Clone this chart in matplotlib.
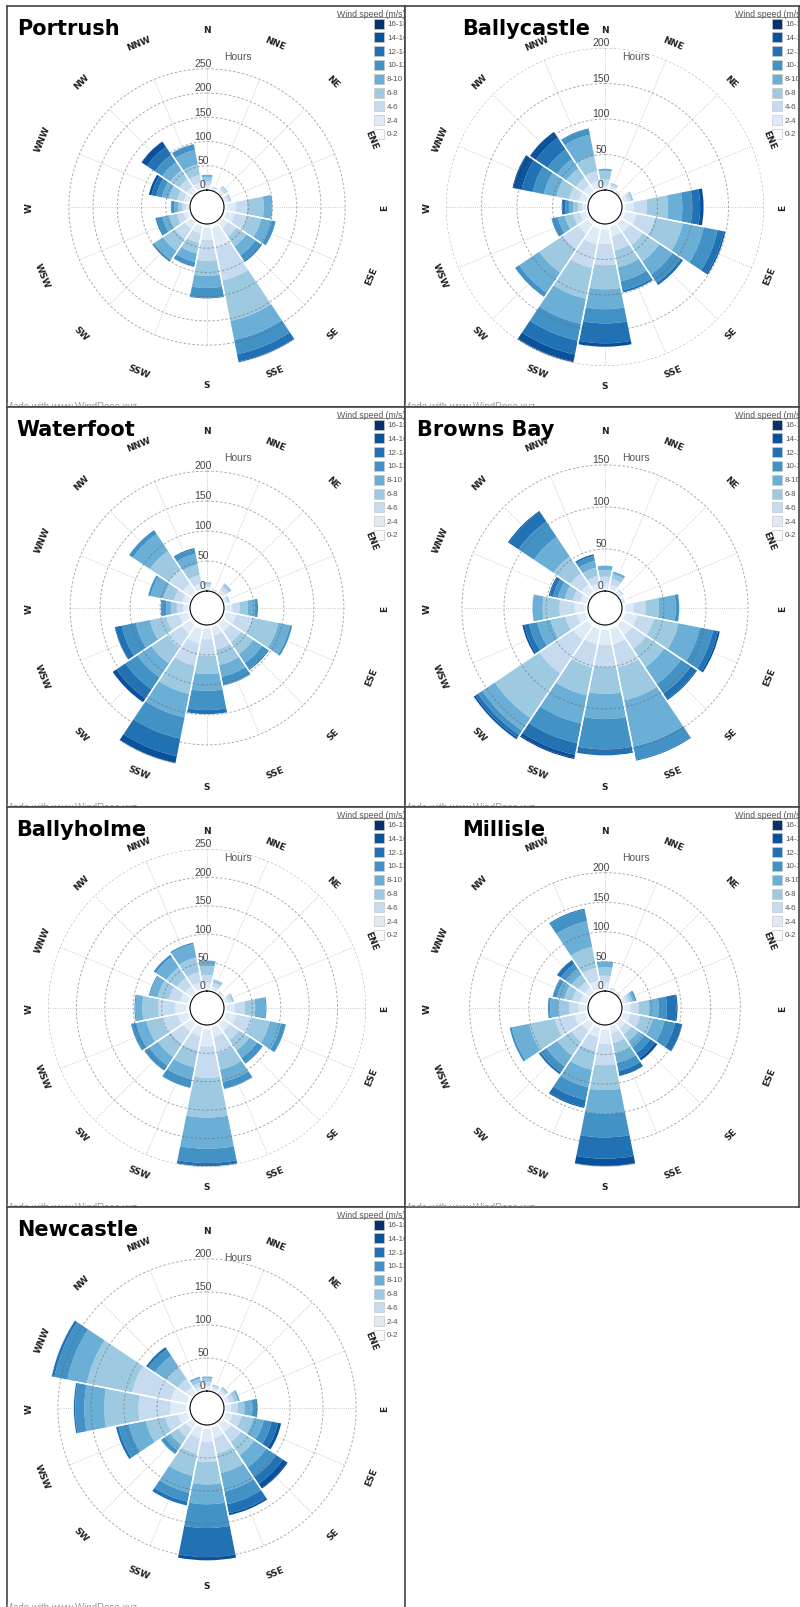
import matplotlib
matplotlib.use("Agg")
import matplotlib.pyplot as plt
import numpy as np
from matplotlib.patches import Rectangle

W, H = 800, 1608

directions = ["N", "NNE", "NE", "ENE", "E", "ESE", "SE", "SSE",
              "S", "SSW", "SW", "WSW", "W", "WNW", "NW", "NNW"]
speed_bins = ["0-2", "2-4", "4-6", "6-8", "8-10", "10-12", "12-14", "14-16", "16-18"]
blues = ["#f7fbff", "#deebf7", "#c6dbef", "#9ecae1", "#6baed6",
         "#4292c6", "#2171b5", "#08519c", "#08306b"]

# hours per direction (rows N..NNW), columns = speed bins 0-2 .. 16-18
portrush = [
    [3, 6, 8, 10, 6, 0, 0, 0, 0],
    [2, 4, 3, 1, 0, 0, 0, 0, 0],
    [3, 7, 6, 3, 1, 0, 0, 0, 0],
    [3, 6, 5, 3, 1, 0, 0, 0, 0],
    [6, 18, 24, 34, 16, 3, 0, 0, 0],
    [6, 18, 25, 30, 22, 9, 1, 0, 0],
    [5, 14, 20, 25, 22, 14, 4, 0, 0],
    [10, 40, 70, 85, 40, 30, 15, 3, 0],
    [8, 25, 43, 31, 25, 20, 3, 0, 0],
    [6, 15, 20, 22, 18, 10, 2, 0, 0],
    [6, 15, 24, 30, 22, 6, 0, 0, 0],
    [5, 10, 14, 16, 14, 12, 4, 0, 0],
    [3, 6, 7, 8, 8, 7, 2, 0, 0],
    [4, 10, 14, 18, 14, 12, 10, 6, 1],
    [5, 12, 18, 22, 20, 18, 20, 13, 2],
    [5, 12, 16, 22, 30, 12, 2, 0, 0],
]
ballycastle = [
    [2, 5, 8, 12, 4, 0, 0, 0, 0],
    [2, 4, 3, 2, 1, 0, 0, 0, 0],
    [1, 2, 1, 1, 0, 0, 0, 0, 0],
    [3, 6, 5, 3, 1, 0, 0, 0, 0],
    [5, 12, 18, 30, 20, 14, 11, 5, 1],
    [6, 16, 26, 40, 30, 20, 9, 3, 0],
    [5, 14, 22, 28, 22, 14, 5, 0, 0],
    [5, 14, 20, 24, 20, 13, 4, 0, 0],
    [8, 20, 30, 34, 28, 20, 28, 5, 1],
    [8, 22, 34, 44, 36, 24, 20, 10, 2],
    [6, 16, 26, 40, 34, 8, 0, 0, 0],
    [4, 8, 10, 12, 10, 8, 2, 0, 0],
    [3, 5, 6, 7, 6, 5, 4, 2, 0],
    [4, 10, 14, 18, 18, 16, 16, 12, 2],
    [4, 10, 12, 16, 16, 16, 20, 10, 1],
    [4, 10, 14, 22, 30, 8, 2, 0, 0],
]
waterfoot = [
    [2, 4, 5, 4, 1, 0, 0, 0, 0],
    [1, 2, 2, 1, 0, 0, 0, 0, 0],
    [3, 6, 7, 5, 2, 0, 0, 0, 0],
    [2, 4, 3, 2, 1, 0, 0, 0, 0],
    [4, 10, 12, 14, 12, 6, 0, 0, 0],
    [5, 16, 28, 44, 20, 5, 0, 0, 0],
    [5, 14, 22, 24, 18, 12, 3, 0, 0],
    [5, 14, 24, 26, 20, 14, 2, 0, 0],
    [6, 18, 28, 30, 28, 32, 8, 0, 0],
    [8, 24, 38, 48, 40, 36, 30, 11, 2],
    [6, 18, 28, 32, 28, 24, 18, 8, 1],
    [5, 14, 22, 28, 24, 24, 11, 2, 0],
    [4, 8, 10, 10, 8, 8, 2, 0, 0],
    [4, 10, 14, 18, 22, 5, 0, 0, 0],
    [5, 16, 28, 38, 34, 9, 0, 0, 0],
    [4, 10, 14, 18, 18, 8, 3, 0, 0],
]
browns_bay = [
    [3, 6, 8, 8, 6, 0, 0, 0, 0],
    [3, 5, 7, 6, 4, 0, 0, 0, 0],
    [2, 3, 2, 1, 0, 0, 0, 0, 0],
    [1, 2, 1, 1, 0, 0, 0, 0, 0],
    [4, 10, 14, 16, 20, 5, 0, 0, 0],
    [5, 14, 20, 30, 26, 16, 6, 3, 0],
    [5, 14, 20, 26, 24, 14, 8, 2, 0],
    [6, 18, 28, 40, 56, 16, 2, 0, 0],
    [6, 18, 26, 32, 30, 36, 8, 0, 0],
    [6, 18, 28, 34, 34, 24, 14, 4, 2],
    [6, 20, 48, 64, 18, 6, 4, 3, 0],
    [4, 10, 14, 18, 16, 10, 6, 3, 0],
    [4, 12, 18, 20, 12, 1, 0, 0, 0],
    [3, 7, 9, 10, 8, 6, 4, 2, 0],
    [4, 10, 16, 24, 28, 22, 14, 2, 0],
    [3, 7, 9, 10, 8, 6, 3, 0, 0],
]
ballyholme = [
    [4, 10, 14, 16, 11, 0, 0, 0, 0],
    [3, 6, 7, 5, 2, 0, 0, 0, 0],
    [2, 3, 2, 1, 0, 0, 0, 0, 0],
    [3, 6, 6, 4, 1, 0, 0, 0, 0],
    [5, 14, 18, 18, 18, 3, 0, 0, 0],
    [5, 18, 28, 32, 20, 8, 2, 0, 0],
    [5, 14, 20, 22, 16, 10, 3, 0, 0],
    [5, 18, 28, 30, 22, 12, 2, 0, 0],
    [8, 30, 55, 70, 55, 25, 6, 1, 0],
    [5, 16, 26, 30, 22, 14, 2, 0, 0],
    [5, 16, 26, 28, 18, 10, 2, 0, 0],
    [5, 18, 28, 28, 18, 9, 2, 0, 0],
    [6, 20, 30, 28, 12, 3, 0, 0, 0],
    [5, 14, 20, 20, 14, 3, 0, 0, 0],
    [5, 12, 18, 22, 22, 6, 0, 0, 0],
    [5, 12, 18, 26, 24, 4, 0, 0, 0],
]
millisle = [
    [4, 10, 12, 14, 10, 1, 0, 0, 0],
    [2, 3, 2, 1, 0, 0, 0, 0, 0],
    [1, 2, 2, 1, 0, 0, 0, 0, 0],
    [3, 5, 6, 5, 4, 3, 1, 0, 0],
    [4, 10, 14, 18, 16, 14, 16, 3, 0],
    [4, 12, 16, 22, 20, 18, 12, 2, 0],
    [4, 10, 12, 14, 12, 12, 10, 5, 1],
    [4, 12, 16, 18, 16, 14, 9, 1, 0],
    [8, 24, 36, 42, 40, 40, 36, 12, 2],
    [6, 16, 24, 32, 30, 22, 12, 3, 0],
    [5, 14, 22, 28, 22, 12, 5, 0, 0],
    [6, 18, 34, 44, 30, 5, 0, 0, 0],
    [4, 12, 16, 18, 14, 5, 0, 0, 0],
    [4, 10, 14, 14, 12, 7, 2, 0, 0],
    [4, 10, 12, 14, 12, 10, 7, 2, 0],
    [5, 14, 22, 36, 44, 20, 3, 0, 0],
]
newcastle = [
    [3, 5, 6, 6, 3, 0, 0, 0, 0],
    [2, 4, 3, 2, 1, 0, 0, 0, 0],
    [2, 5, 4, 3, 1, 0, 0, 0, 0],
    [3, 6, 7, 6, 4, 0, 0, 0, 0],
    [3, 8, 10, 10, 12, 8, 1, 0, 0],
    [4, 10, 14, 18, 16, 12, 10, 5, 1],
    [5, 14, 18, 24, 22, 18, 12, 8, 2],
    [5, 16, 24, 30, 28, 20, 14, 4, 0],
    [6, 20, 30, 34, 30, 36, 44, 6, 0],
    [5, 16, 24, 34, 26, 14, 6, 1, 0],
    [4, 10, 14, 14, 10, 6, 2, 0, 0],
    [5, 14, 20, 30, 26, 16, 5, 0, 0],
    [6, 24, 48, 52, 30, 14, 3, 0, 0],
    [6, 24, 60, 70, 30, 20, 5, 0, 0],
    [4, 10, 14, 22, 20, 12, 5, 0, 0],
    [3, 5, 6, 6, 4, 0, 0, 0, 0],
]

station_names = ["Portrush", "Ballycastle", "Waterfoot", "Browns Bay",
                 "Ballyholme", "Millisle", "Newcastle"]
station_tables = [portrush, ballycastle, waterfoot, browns_bay,
                  ballyholme, millisle, newcastle]
title_x = [10, 57, 9, 12, 9, 57, 10]

panel_x = [7, 405]
panel_w = [398, 394]
panel_y = [7, 408, 808, 1208, 1610]

fig = plt.figure(figsize=(W / 100, H / 100), dpi=100)


def fig_rect(x, y, w, h):
    return [x / W, 1 - (y + h) / H, w / W, h / H]


theta = np.deg2rad(np.arange(16) * 22.5)
width = np.deg2rad(22.5)
ring = np.linspace(0, 2 * np.pi, 361)
R = 159  # plot radius in px
HOLE = 17

for i, (name, table) in enumerate(zip(station_names, station_tables)):
    row, col = divmod(i, 2)
    x0, y0 = panel_x[col], panel_y[row]
    pw, ph = panel_w[col], panel_y[row + 1] - y0

    # panel frame with title, legend and footer
    frame = fig.add_axes(fig_rect(x0, y0, pw, ph))
    frame.set_xlim(0, pw)
    frame.set_ylim(ph, 0)
    frame.set_xticks([])
    frame.set_yticks([])
    for s in frame.spines.values():
        s.set_color("#444444")
        s.set_linewidth(1.2)
    frame.text(title_x[i], 28, name, fontsize=15, fontweight="bold",
               va="baseline", clip_on=True)
    frame.text(330, 7, "Wind speed (m/s)", fontsize=6.3, color="#555555",
               family="Liberation Sans", va="center", clip_on=True)
    frame.plot([330, pw], [11, 11], color="#777777", lw=0.6, clip_on=True)
    for j in range(9):
        k = 8 - j
        yy = 17.5 + j * 13.8
        frame.add_patch(Rectangle((367, yy - 5), 10, 10, facecolor=blues[k],
                                  edgecolor="#c8c8c8", lw=0.5))
        frame.text(380, yy, speed_bins[k], fontsize=5.8, color="#555555",
                   family="Liberation Sans", va="center", clip_on=True)
    frame.text(-2, 395, "Made with www.WindRose.xyz", fontsize=7,
               color="#999999", family="Liberation Sans", va="top", clip_on=True)

    # wind rose
    data = np.array(table, dtype=float)
    totals = data.sum(axis=1)
    rmax = totals.max()
    hole = rmax * HOLE / (R - HOLE)
    cx, cy = x0 + 200, y0 + 201
    ax = fig.add_axes(fig_rect(cx - R, cy - R, 2 * R, 2 * R), projection="polar")
    ax.patch.set_alpha(0)
    ax.set_theta_zero_location("N")
    ax.set_theta_direction(-1)
    ax.set_ylim(0, rmax)
    ax.set_rorigin(-hole)
    ax.set_xticks([])
    ax.set_yticks([])
    ax.grid(False)
    for s in ax.spines.values():
        s.set_visible(False)

    ticks = np.arange(0, rmax + 0.5, 50)
    for t in theta:
        ax.plot([t, t], [0, ticks[-1]], ls=":", color="#bbbbbb", lw=0.6, zorder=0.5)

    cum = np.zeros(16)
    for k in range(9):
        ax.bar(theta, data[:, k], width=width, bottom=cum, color=blues[k],
               linewidth=0, zorder=2)
        cum += data[:, k]
    ax.bar(theta, totals, width=width, bottom=0, fill=False,
           edgecolor="white", linewidth=1.0, zorder=2.5)

    for v in ticks:
        ax.plot(ring, np.full_like(ring, v), ls=(0, (2.5, 2)), color="#666666",
                lw=0.7, alpha=0.55, zorder=3)
        ax.annotate(f"{int(v)}", xy=(0, v), xytext=(-3, 0.5),
                    textcoords="offset points", ha="center", va="bottom",
                    fontsize=7.5, color="#444444", family="Liberation Sans", zorder=4)
    ax.text(0.5 + 31 / (2 * R), 0.5 + 151 / (2 * R), "Hours", transform=ax.transAxes,
            ha="center", va="center", fontsize=7.5, color="#555555",
            family="Liberation Sans")

    rl = 178 / R * (rmax + hole) - hole
    for t, d in zip(theta, directions):
        rot = (-np.rad2deg(t)) % 360
        if 90 < rot <= 270:
            rot -= 180
        ax.text(t, rl, d, rotation=rot, rotation_mode="anchor", ha="center",
                va="center", fontsize=6.5, fontweight="bold", color="#222222")

fig.savefig("out.png", dpi=100)
plt.close(fig)
